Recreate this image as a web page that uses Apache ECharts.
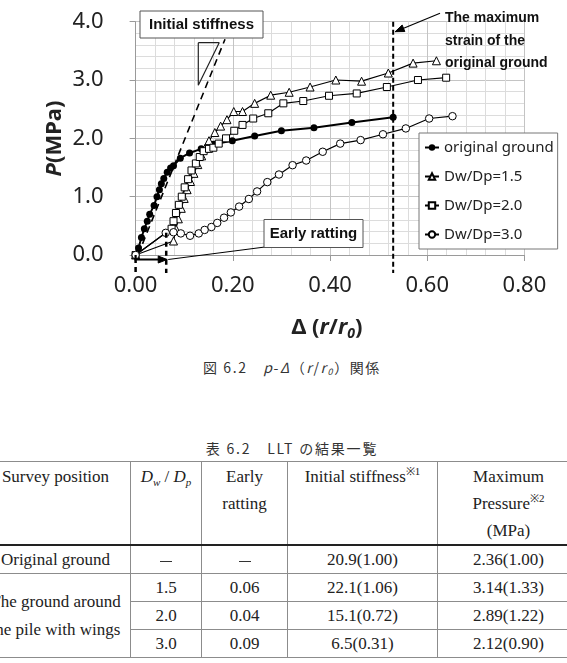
<!doctype html>
<meta charset="utf-8">
<style>
  html, body {
    margin: 0;
    background: #fff;
  }
  body {
    position: relative;
    width: 567px;
    height: 663px;
    overflow: hidden;
  }
  #chart {
    position: absolute;
    left: 0;
    top: 0;
    width: 567px;
    height: 345px;
  }
  .caption {
    position: absolute;
    left: 0;
    width: 584px;
    text-align: center;
    font-family: 'Noto Sans CJK JP', sans-serif;
    font-size: 14px;
    line-height: 20px;
    letter-spacing: 1.6px;
    color: #333;
    white-space: pre;
  }
  .caption sub {
    font-size: 9px;
    vertical-align: -2px;
    line-height: 0;
  }
  #results {
    position: absolute;
    left: -20px;
    top: 461px;
    width: 599px;
    border-collapse: collapse;
    table-layout: fixed;
    font-family: 'Liberation Serif', serif;
    font-size: 17px;
    color: #222;
  }
  #results td {
    border: 1px solid #8c8c8c;
    padding: 0;
    text-align: center;
    vertical-align: middle;
    height: 27px;
    line-height: 27px;
    white-space: nowrap;
  }
  #results tr.head td {
    vertical-align: top;
    height: 80px;
    padding-top: 1px;
    border-bottom: 2px solid #222;
  }
  #results sub, #results sup {
    font-size: 11px;
    line-height: 0;
  }
  #results .dash {
    display: inline-block;
    width: 12px;
    border-top: 1px solid #333;
    vertical-align: middle;
  }
</style>
<script src="https://cdn.jsdelivr.net/npm/echarts@6.0.0/dist/echarts.min.js"></script>

<div id="chart"></div>
<div class="caption" style="top:357px">図 6.2　<i>p</i>-<i>Δ</i>（<i>r</i>/<i>r<sub>0</sub></i>）関係</div>
<div class="caption" style="top:438px; letter-spacing:1.8px">表 6.2　LLT の結果一覧</div>
<table id="results"></table>

<script>
  // p - Δ(r/r0) curves
  const seriesNames = ['original ground', 'Dw/Dp=1.5', 'Dw/Dp=2.0', 'Dw/Dp=3.0']
  const originalGround = [[0, 0], [0.006, 0.12], [0.012, 0.30], [0.018, 0.45], [0.024, 0.58], [0.029, 0.70],
    [0.038, 0.85], [0.044, 1.00], [0.049, 1.12], [0.053, 1.22], [0.058, 1.31], [0.065, 1.42], [0.072, 1.49],
    [0.078, 1.53], [0.092, 1.66], [0.111, 1.75], [0.135, 1.82], [0.160, 1.90], [0.199, 1.96], [0.245, 2.04],
    [0.300, 2.13], [0.367, 2.18], [0.445, 2.27], [0.530, 2.36]]
  const dwdp15 = [[0, 0], [0.078, 0.24], [0.083, 0.45], [0.088, 0.62], [0.094, 0.80], [0.100, 0.97],
    [0.106, 1.12], [0.113, 1.26], [0.120, 1.40], [0.128, 1.55], [0.136, 1.70], [0.143, 1.83], [0.151, 1.96],
    [0.163, 2.10], [0.175, 2.21], [0.188, 2.32], [0.202, 2.46], [0.220, 2.46], [0.245, 2.60], [0.278, 2.74],
    [0.316, 2.79], [0.359, 2.88], [0.412, 3.00], [0.465, 2.98], [0.520, 3.12], [0.571, 3.29], [0.619, 3.33]]
  const dwdp20 = [[0, 0], [0.074, 0.45], [0.078, 0.58], [0.083, 0.72], [0.089, 0.86], [0.095, 1.00],
    [0.101, 1.16], [0.108, 1.30], [0.115, 1.45], [0.124, 1.57], [0.132, 1.68], [0.140, 1.78], [0.151, 1.82],
    [0.160, 1.84], [0.171, 1.91], [0.186, 2.00], [0.203, 2.13], [0.220, 2.23], [0.242, 2.34], [0.273, 2.43],
    [0.304, 2.60], [0.345, 2.64], [0.398, 2.73], [0.455, 2.77], [0.517, 2.88], [0.581, 3.00], [0.639, 3.04]]
  const dwdp30 = [[0, 0], [0.062, 0.38], [0.078, 0.39], [0.093, 0.37], [0.112, 0.33], [0.130, 0.37],
    [0.142, 0.43], [0.156, 0.48], [0.168, 0.55], [0.182, 0.64], [0.196, 0.73], [0.213, 0.83], [0.233, 0.96],
    [0.250, 1.09], [0.271, 1.25], [0.295, 1.38], [0.323, 1.54], [0.351, 1.62], [0.385, 1.77], [0.421, 1.91],
    [0.463, 1.97], [0.509, 2.07], [0.556, 2.17], [0.604, 2.34], [0.652, 2.38]]

  // annotation geometry in data units
  const stiffnessLine = [[0.005, 0], [0.184, 3.70]]
  const stiffnessTriangle = [[0.129, 3.64], [0.172, 3.64], [0.129, 2.91], [0.129, 3.64]]
  const maxStrain = 0.530
  const earlyRatting = [0, 0.063]

  // table 6.2
  const dash = '<span class="dash"></span>'
  const tableHead = ['Survey position', '<i>D<sub>w</sub></i> / <i>D<sub>p</sub></i>', 'Early<br>ratting',
    'Initial stiffness<sup>※1</sup>', 'Maximum<br>Pressure<sup>※2</sup><br>(MPa)']
  const surveyPositions = ['Original ground', 'The ground around<br>the pile with wings']
  const dwdpRatios = [dash, '1.5', '2.0', '3.0']
  const earlyRattings = [dash, '0.06', '0.04', '0.09']
  const initialStiffness = ['20.9(1.00)', '22.1(1.06)', '15.1(0.72)', '6.5(0.31)']
  const maxPressure = ['2.36(1.00)', '3.14(1.33)', '2.89(1.22)', '2.12(0.90)']
  const colWidths = [150, 71, 86, 150, 142]

  let html = '<colgroup>' + colWidths.map(w => `<col style="width:${w}px">`).join('') + '</colgroup>'
  html += '<tr class="head">' + tableHead.map(h => `<td>${h}</td>`).join('') + '</tr>'
  for (let i = 0; i < dwdpRatios.length; i++) {
    html += '<tr>'
    if (i === 0) html += `<td>${surveyPositions[0]}</td>`
    if (i === 1) html += `<td rowspan="3" style="line-height:27.5px">${surveyPositions[1]}</td>`
    html += `<td>${dwdpRatios[i]}</td><td>${earlyRattings[i]}</td><td>${initialStiffness[i]}</td><td>${maxPressure[i]}</td></tr>`
  }
  document.getElementById('results').innerHTML = html

  const axisColor = '#9a9a9a'
  const font = 'Noto Sans'
  const chart = echarts.init(document.getElementById('chart'))

  function curve(name, data, symbol, size, filled, width) {
    return {
      name: name,
      type: 'line',
      data: data,
      symbol: symbol,
      symbolSize: size,
      itemStyle: filled ? { color: '#000' } : { color: '#fff', borderColor: '#000', borderWidth: 1 },
      lineStyle: { color: '#000', width: width },
      emphasis: { disabled: true },
    }
  }

  chart.setOption({
    animation: false,
    grid: {
      left: 135.6,
      right: 42.6,
      top: 21.7,
      bottom: 90,
      outerBoundsMode: 'none',
    },
    legend: {
      data: seriesNames,
      orient: 'vertical',
      left: 419,
      top: 133,
      padding: [6, 4, 6, 5],
      itemWidth: 14,
      itemHeight: 8,
      itemGap: 12,
      backgroundColor: '#fff',
      borderColor: '#777',
      borderWidth: 1,
      textStyle: { fontFamily: font, fontSize: 15, color: '#222', lineHeight: 17 },
    },
    xAxis: {
      type: 'value',
      min: 0,
      max: 0.8,
      interval: 0.2,
      axisLine: { lineStyle: { color: axisColor } },
      axisTick: { show: true, length: 6, lineStyle: { color: axisColor } },
      axisLabel: { margin: 20, fontFamily: font, fontSize: 22, color: '#222', formatter: v => v.toFixed(2) },
      splitLine: { show: true, lineStyle: { color: '#c4c4c4' } },
      minorTick: { show: false, splitNumber: 5 },
      minorSplitLine: { show: true, lineStyle: { color: '#dcdcdc' } },
    },
    yAxis: {
      type: 'value',
      min: 0,
      max: 4,
      interval: 1,
      axisLine: { show: true, lineStyle: { color: axisColor } },
      axisTick: { show: true, length: 6, lineStyle: { color: axisColor } },
      axisLabel: { margin: 32, fontFamily: font, fontSize: 22, color: '#222', formatter: v => v.toFixed(1) },
      splitLine: { show: true, lineStyle: { color: '#c4c4c4' } },
      minorTick: { show: false, splitNumber: 5 },
      minorSplitLine: { show: true, lineStyle: { color: '#dcdcdc' } },
    },
    series: [
      {
        type: 'line',
        data: stiffnessLine,
        symbol: 'none',
        silent: true,
        lineStyle: { color: '#000', width: 1.6, type: [7, 5] },
      },
      {
        type: 'line',
        data: stiffnessTriangle,
        symbol: 'none',
        silent: true,
        lineStyle: { color: '#222', width: 1.2 },
      },
      curve(seriesNames[0], originalGround, 'circle', 7, true, 2),
      curve(seriesNames[1], dwdp15, 'triangle', 8, false, 1.2),
      curve(seriesNames[2], dwdp20, 'rect', 7, false, 1.2),
      curve(seriesNames[3], dwdp30, 'circle', 7.5, false, 1.2),
    ],
  })

  // annotations, placed from data coordinates where they touch the plot
  const toPx = p => chart.convertToPixel({ gridIndex: 0 }, p)
  const [ox, oy] = toPx([0, 0])
  const topY = toPx([0, 4])[1]
  const msX = toPx([maxStrain, 0])[0]
  const erX0 = toPx([earlyRatting[0], 0])[0]
  const [erX1, erY1] = toPx([earlyRatting[1], dwdp30[1][1]])
  const belowY = oy + 18
  const arrowY = oy + 4.5

  function arrowHead(tip, from, len, half) {
    const dx = tip[0] - from[0], dy = tip[1] - from[1]
    const d = Math.hypot(dx, dy), ux = dx / d, uy = dy / d
    const bx = tip[0] - ux * len, by = tip[1] - uy * len
    return [tip, [bx - uy * half, by + ux * half], [bx + uy * half, by - ux * half]]
  }
  function poly(points, width, dash) {
    return { type: 'polyline', z: 100, shape: { points: points }, style: { stroke: '#000', lineWidth: width, lineDash: dash || null, fill: null } }
  }
  function head(points) {
    return { type: 'polygon', z: 100, shape: { points: points }, style: { fill: '#000', stroke: '#000', lineWidth: 1 } }
  }
  function box(x, y, w, h, text) {
    return [
      { type: 'rect', z: 100, shape: { x: x, y: y, width: w, height: h }, style: { fill: '#fff', stroke: '#555', lineWidth: 1 } },
      { type: 'text', z: 101, x: x + w / 2, y: y + h / 2, style: { text: text, fontFamily: 'Liberation Sans', fontWeight: 'bold', fontSize: 15, fill: '#111', align: 'center', verticalAlign: 'middle' } },
    ]
  }

  const msFrom = [440, 13.3], msTip = [msX + 2, 31.7]
  const erTip = [erX1 + 1, arrowY]

  chart.setOption({
    graphic: [
      // maximum strain of the original ground
      poly([[msX, topY], [msX, belowY]], 2, [5, 3]),
      poly([msFrom, msTip], 1.2),
      head(arrowHead(msTip, msFrom, 9, 3.5)),
      {
        type: 'text', z: 101, x: 445, y: 7,
        style: {
          text: 'The maximum\nstrain of the\noriginal ground',
          fontFamily: 'Liberation Sans', fontWeight: 'bold', fontSize: 14, lineHeight: 22.6,
          fill: '#111', align: 'left', verticalAlign: 'top',
        },
      },
      // early ratting
      poly([[erX0, oy + 3], [erX0, belowY]], 2.5, [5, 4]),
      poly([[erX1, erY1], [erX1, belowY]], 2.5, [5, 4]),
      poly([[ox, oy], [ox, arrowY], [erX1 - 7, arrowY]], 2.2),
      head(arrowHead(erTip, [ox, arrowY], 9, 3.5)),
      poly([[erX1 + 2, arrowY], [265, 247]], 1),
      ...box(264, 219.5, 99, 28, 'Early ratting'),
      ...box(140, 11, 123, 27, 'Initial stiffness'),
      // axis names
      {
        type: 'text', z: 101, x: 55, y: 138.5, rotation: Math.PI / 2,
        style: {
          text: '{i|P}{n|(MPa)}',
          rich: {
            i: { fontFamily: font, fontSize: 22, fontWeight: 'bold', fontStyle: 'italic', fill: '#222' },
            n: { fontFamily: font, fontSize: 22, fontWeight: 'bold', fill: '#222' },
          },
          align: 'center', verticalAlign: 'middle',
        },
      },
      {
        type: 'text', z: 101, x: 327, y: 328,
        style: {
          text: '{n|Δ (}{i|r}{n|/}{i|r}{s|0}{n|)}',
          rich: {
            n: { fontFamily: font, fontSize: 22, fontWeight: 'bold', fill: '#222', lineHeight: 26 },
            i: { fontFamily: font, fontSize: 22, fontWeight: 'bold', fontStyle: 'italic', fill: '#222', lineHeight: 26 },
            s: { fontFamily: font, fontSize: 14, fontWeight: 'bold', fontStyle: 'italic', fill: '#222', lineHeight: 14, verticalAlign: 'bottom' },
          },
          align: 'center', verticalAlign: 'middle',
        },
      },
    ],
  })
</script>
